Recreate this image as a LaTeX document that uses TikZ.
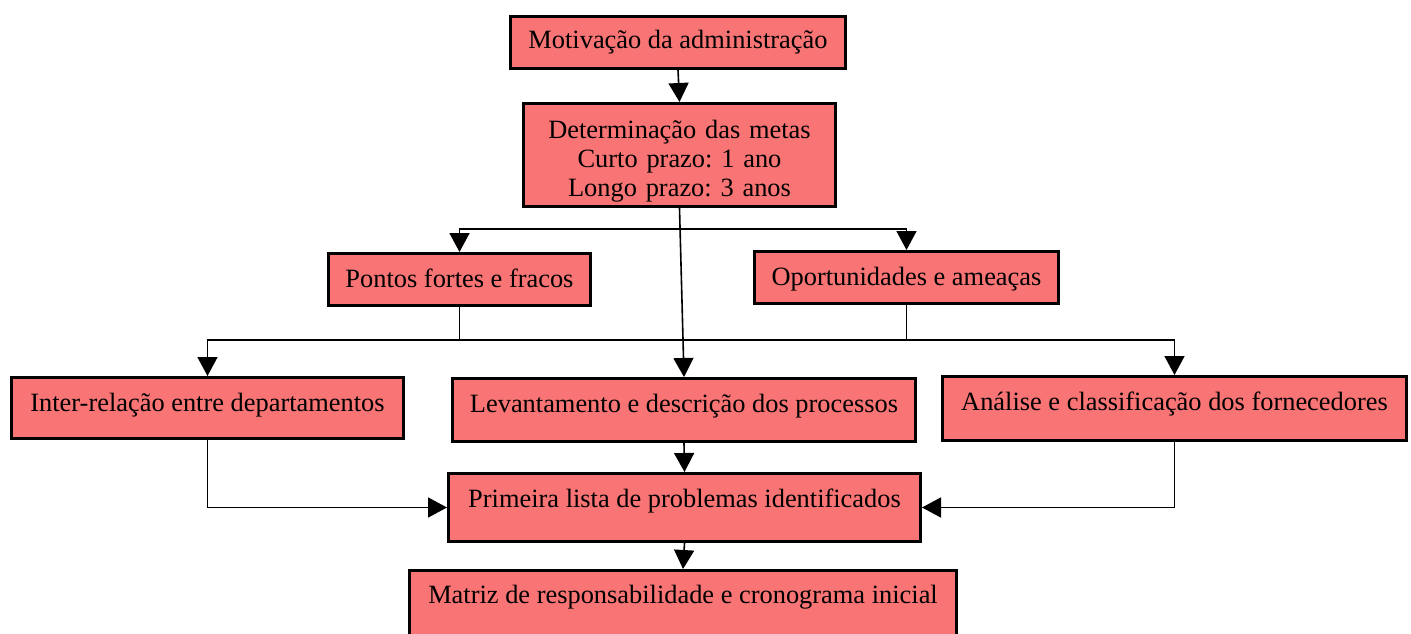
\documentclass[tikz,border=0pt]{standalone}
\usepackage{fontspec}
\setmainfont{Liberation Serif}
\usetikzlibrary{arrows.meta}
\definecolor{salmao}{RGB}{249,116,116}
\frenchspacing

\begin{document}
\begin{tikzpicture}[x=1pt, y=-1pt,
  caixa/.style={draw, line width=3pt, fill=salmao, anchor=north west, inner sep=0pt,
    font=\fontsize{26.4}{29}\selectfont},
  seta/.style={line width=1.6pt, -{Triangle[length=19pt, width=20pt]}},
  linha/.style={line width=1.6pt}]
  \useasboundingbox (0,0) rectangle (1411,634);
  \clip (0,0) rectangle (1411,634);
  \node[caixa, minimum width=335pt, text height=32pt, text depth=20pt] (mot) at (509,15) {Motivação da administração};
  \node[caixa, text width=312pt, align=center, text height=35pt, text depth=68pt] (det) at (522,102) {Determinação das metas\\Curto prazo: 1 ano\\Longo prazo: 3 anos};
  \node[caixa, minimum width=262pt, text height=34pt, text depth=18pt] (pon) at (327,252) {Pontos fortes e fracos};
  \node[caixa, minimum width=304pt, text height=34pt, text depth=18pt] (opo) at (753,250) {Oportunidades e ameaças};
  \node[caixa, minimum width=392pt, text height=34pt, text depth=27pt] (int) at (10,376) {Inter-relação entre departamentos};
  \node[caixa, minimum width=463pt, text height=34pt, text depth=29pt] (lev) at (451,377) {Levantamento e descrição dos processos};
  \node[caixa, minimum width=464pt, text height=34pt, text depth=30pt] (ana) at (941,375) {Análise e classificação dos fornecedores};
  \node[caixa, minimum width=472pt, text height=34pt, text depth=34pt] (pri) at (447,472) {Primeira lista de problemas identificados};
  \node[caixa, minimum width=547pt, text height=33pt, text depth=48pt] (mat) at (408,569) {Matriz de responsabilidade e cronograma inicial};
  \coordinate (lvl1) at (0,229);
  \coordinate (lvl2) at (0,340);
  \draw[seta] (mot.south) -- (det.north);
  \draw[linha] (det.south) -- (det.south |- lvl1);
  \draw[seta] (det.south |- lvl1) -| (pon.north);
  \draw[seta] (det.south |- lvl1) -| (opo.north);
  \draw[seta] (det.south) -- (lev.north);
  \draw[linha] (pon.south) -- (pon.south |- lvl2) -- (opo.south |- lvl2) -- (opo.south);
  \draw[seta] (pon.south |- lvl2) -| (int.north);
  \draw[seta] (opo.south |- lvl2) -| (ana.north);
  \draw[seta] (lev.south) -- (pri.north);
  \draw[seta] (int.south) |- (pri.west);
  \draw[seta] (ana.south) |- (pri.east);
  \draw[seta] (pri.south) -- (mat.north);
\end{tikzpicture}
\end{document}
